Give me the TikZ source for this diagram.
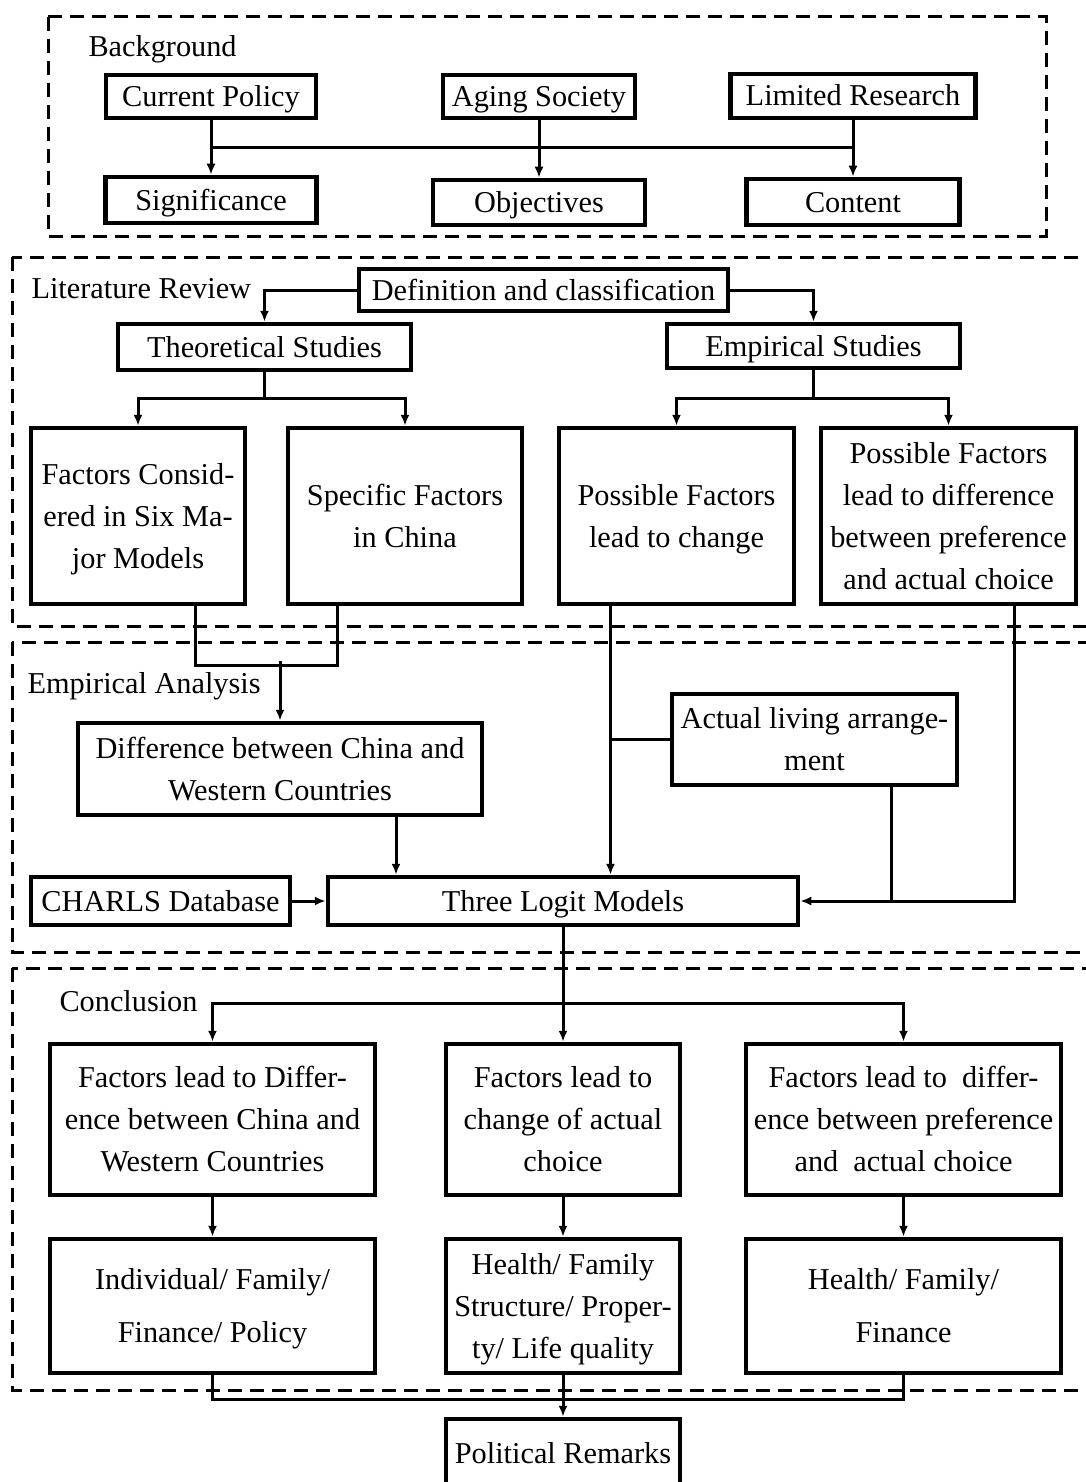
\documentclass[tikz,border=0pt]{standalone}
\usepackage{fontspec}
\setmainfont{Liberation Serif}
\usepackage{tikz}
\usetikzlibrary{arrows.meta,calc}

\begin{document}
\begin{tikzpicture}[x=1pt,y=-1pt,->,>={Latex[length=11pt,width=9pt]},line width=3pt,
	font=\fontsize{30.3pt}{42pt}\selectfont,
	box/.style={draw,line width=4.5pt,inner sep=0pt,align=center,text height=31pt,text depth=11pt},
	two/.style={text height=73pt},
	three/.style={text height=115pt},
	four/.style={text height=157pt},
	spread/.style={text height=84pt},
	area/.style={-,line width=3pt,dash pattern=on 14pt off 8pt},
	lbl/.style={anchor=west,inner sep=0pt,text height=31pt,text depth=11pt}]
	\useasboundingbox (0,0) rectangle (1086,1482);
	% dashed parts
	\draw[area] (48,17) rectangle (1046,236);
	\draw[area] (12,257) rectangle (1100,626);
	\draw[area] (12,642) rectangle (1100,952);
	\draw[area] (12,968) rectangle (1100,1390);
	\node[lbl] (t1) at (87,47) {Background};
	\node[lbl] (t2) at (30,288) {Literature Review};
	\node[lbl] (t3) at (26,683) {Empirical Analysis};
	\node[lbl] (t4) at (58,1001) {Conclusion};
	% background
	\node[box,minimum width=210,minimum height=43] (1) at (211,96.5) {Current Policy};
	\node[box,minimum width=192,minimum height=43] (2) at (539,96.5) {Aging Society};
	\node[box,minimum width=245,minimum height=44] (3) at (853,96) {Limited Research};
	\node[box,minimum width=211,minimum height=46] (4) at (211,200) {Significance};
	\node[box,minimum width=212,minimum height=45] (5) at (539,202.5) {Objectives};
	\node[box,minimum width=213,minimum height=46] (6) at (853,202) {Content};
	\draw (1) -- (4);
	\draw (2) -- (5);
	\draw (3) -- (6);
	\draw[-] (1.south) ++(0,27) -| (3.south);
	% literature review
	\node[box,minimum width=369,minimum height=42] (7) at (543.5,290) {Definition and classification};
	\node[box,minimum width=293,minimum height=46] (8) at (264.5,347) {Theoretical Studies};
	\node[box,minimum width=293,minimum height=44] (9) at (813.5,346) {Empirical Studies};
	\node[box,three,minimum width=214,minimum height=176] (10) at (138,516) {Factors Consid-\\ered in Six Ma-\\jor Models};
	\node[box,two,minimum width=234,minimum height=176] (11) at (405,516) {Specific Factors\\in China};
	\node[box,two,minimum width=235,minimum height=176] (12) at (676.5,516) {Possible Factors\\lead to change};
	\node[box,four,minimum width=255,minimum height=176] (13) at (948.5,516) {Possible Factors\\lead to difference\\between preference\\and actual choice};
	\draw (7.west) -| (8.north);
	\draw (7.east) -| (9.north);
	\draw (8.south) -- ++(0,26) -| (10.north);
	\draw (8.south) -- ++(0,26) -| (11.north);
	\draw (9.south) -- ++(0,28) -| (12.north);
	\draw (9.south) -- ++(0,28) -| (13.north);
	% empirical analysis
	\node[box,two,minimum width=404,minimum height=92] (14) at (280,769) {Difference between China and\\Western Countries};
	\node[box,two,minimum width=285,minimum height=91] (15) at (814.5,739.5) {Actual living arrange-\\ment};
	\node[box,minimum width=259,minimum height=48] (16) at (160.5,901) {CHARLS Database};
	\node[box,minimum width=470,minimum height=48] (17) at (563,901) {Three Logit Models};
	\coordinate (c1) at ($(12.south)+(-66,0)$);
	\coordinate (c2) at ($(14.south)+(116,0)$);
	\coordinate (c3) at ($(15.south)+(77,0)$);
	\coordinate (c4) at ($(13.south)+(66,0)$);
	\draw[-] ($(10.south)+(57,0)$) -- ++(0,59) -| ($(11.south)+(-68,0)$);
	\draw (14.north) ++(0,-60) -- (14.north);
	\draw (c1) -- (c1 |- 17.north);
	\draw[-] (15.west) -- (15.west -| c1);
	\draw (c2) -- (c2 |- 17.north);
	\draw (16) -- (17);
	\draw (c4) |- (17.east);
	\draw[-] (c3) -- (c3 |- 17.east);
	% conclusion
	\node[box,three,minimum width=325,minimum height=151] (18) at (212.5,1119.5) {Factors lead to Differ-\\ence between China and\\Western Countries};
	\node[box,three,minimum width=234,minimum height=151] (19) at (563,1119.5) {Factors lead to\\change of actual\\choice};
	\node[box,three,minimum width=315,minimum height=151] (20) at (903.5,1119.5) {Factors lead to\ \ differ-\\ence between preference\\and\ \ actual choice};
	\node[box,spread,minimum width=325,minimum height=134] (21) at (212.5,1306) {Individual/ Family/\\[11pt]Finance/ Policy};
	\node[box,three,minimum width=234,minimum height=134] (22) at (563,1306) {Health/ Family\\Structure/ Proper-\\ty/ Life quality};
	\node[box,spread,minimum width=315,minimum height=134] (23) at (903.5,1306) {Health/ Family/\\[11pt]Finance};
	\node[box,minimum width=234,minimum height=68] (24) at (563,1453) {Political Remarks};
	\draw (17) -- (19);
	\draw (17.south) ++(0,76) -| (18.north);
	\draw (17.south) ++(0,76) -| (20.north);
	\draw (18) -- (21);
	\draw (19) -- (22);
	\draw (20) -- (23);
	\draw[-] (21.south) -- ++(0,24) -| (23.south);
	\draw (22) -- (24);
\end{tikzpicture}
\end{document}
